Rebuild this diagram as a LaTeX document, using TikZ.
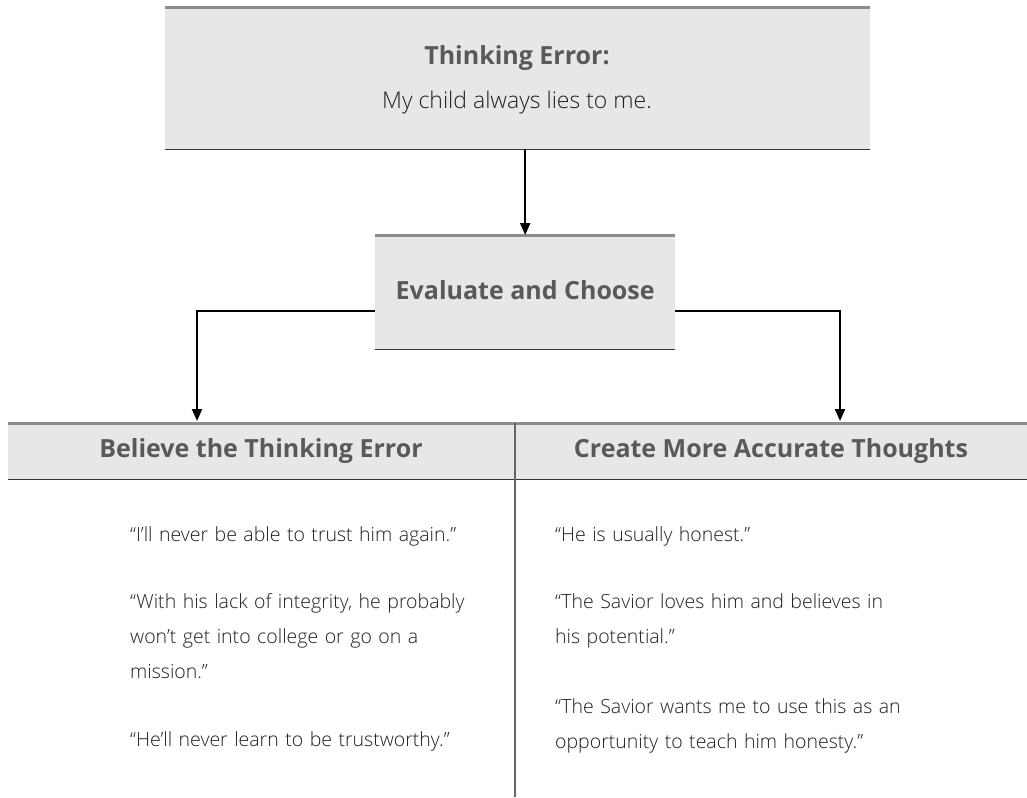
\documentclass[tikz,border=0pt]{standalone}
\usepackage{fontspec}
\setmainfont{Open Sans Light}[BoldFont={Open Sans Bold}]
\usetikzlibrary{arrows.meta}
\definecolor{boxgray}{HTML}{E6E7E8}
\definecolor{rulegray}{HTML}{8C8C8C}
\definecolor{headtext}{HTML}{58595B}
\definecolor{bodytext}{HTML}{231F20}
\tikzset{
  box/.style={fill=boxgray,inner sep=0pt,anchor=north west},
  head/.style={font=\fontsize{25}{30}\selectfont\bfseries,text=headtext},
  sub/.style={font=\fontsize{23}{28}\selectfont,text=bodytext},
  body/.style={font=\fontsize{19.5}{35}\selectfont,text=bodytext,anchor=base west,
    inner sep=0pt,text width=420pt,align=left},
  toprule/.style={rulegray,line width=3pt},
  botrule/.style={black!80,line width=1.5pt},
  divrule/.style={black!60,line width=1.2pt},
  arr/.style={-{Triangle[length=12pt,width=10pt]},line width=2pt},
}

\begin{document}
\begin{tikzpicture}[x=1pt,y=-1pt]
\useasboundingbox (0,0) rectangle (1027,797);
% boxes
\node [box,minimum width=705pt,minimum height=141pt] (err) at (165,8) {};
\node [box,minimum width=300pt,minimum height=114pt] (eval) at (375,235) {};
\node [box,minimum width=1019pt,minimum height=56pt] (tab) at (8,423) {};
\draw [toprule] (err.north west) -- (err.north east);
\draw [botrule] (err.south west) -- (err.south east);
\draw [toprule] (eval.north west) -- (eval.north east);
\draw [botrule] (eval.south west) -- (eval.south east);
\draw [toprule] (tab.north west) -- (tab.north east);
\draw [botrule] (tab.south west) -- (tab.south east);
\coordinate (divtop) at (515,423);
\coordinate (divbot) at (515,797);
\draw [divrule] (divtop) -- (divbot);
% texts
\node [head] (errhead) at (517,58) {Thinking Error:};
\node [sub] (errtext) at (517,103) {My child always lies to me.};
\node [head] (evalhead) at ([yshift=2pt]eval.center) {Evaluate and Choose};
\node [head] (lefthead) at (261,451) {Believe the Thinking Error};
\node [head] (righthead) at (771,451) {Create More Accurate Thoughts};
\node [body] (l1) at (130,541) {“I’ll never be able to trust him again.”};
\node [body] (l2) at (130,608) {“With his lack of integrity, he probably\\won’t get into college or go on a\\mission.”};
\node [body] (l3) at (130,746) {“He’ll never learn to be trustworthy.”};
\node [body] (r1) at (555,541) {“He is usually honest.”};
\node [body] (r2) at (555,608) {“The Savior loves him and believes in\\his potential.”};
\node [body] (r3) at (555,713) {“The Savior wants me to use this as an\\opportunity to teach him honesty.”};
% connectors
\coordinate (lt) at (197,421);
\coordinate (rt) at (840,421);
\draw [arr] (err.south -| eval.north) -- (eval.north);
\draw [arr] ([yshift=-19pt]eval.west) -| (lt);
\draw [arr] ([yshift=-19pt]eval.east) -| (rt);
\end{tikzpicture}
\end{document}
